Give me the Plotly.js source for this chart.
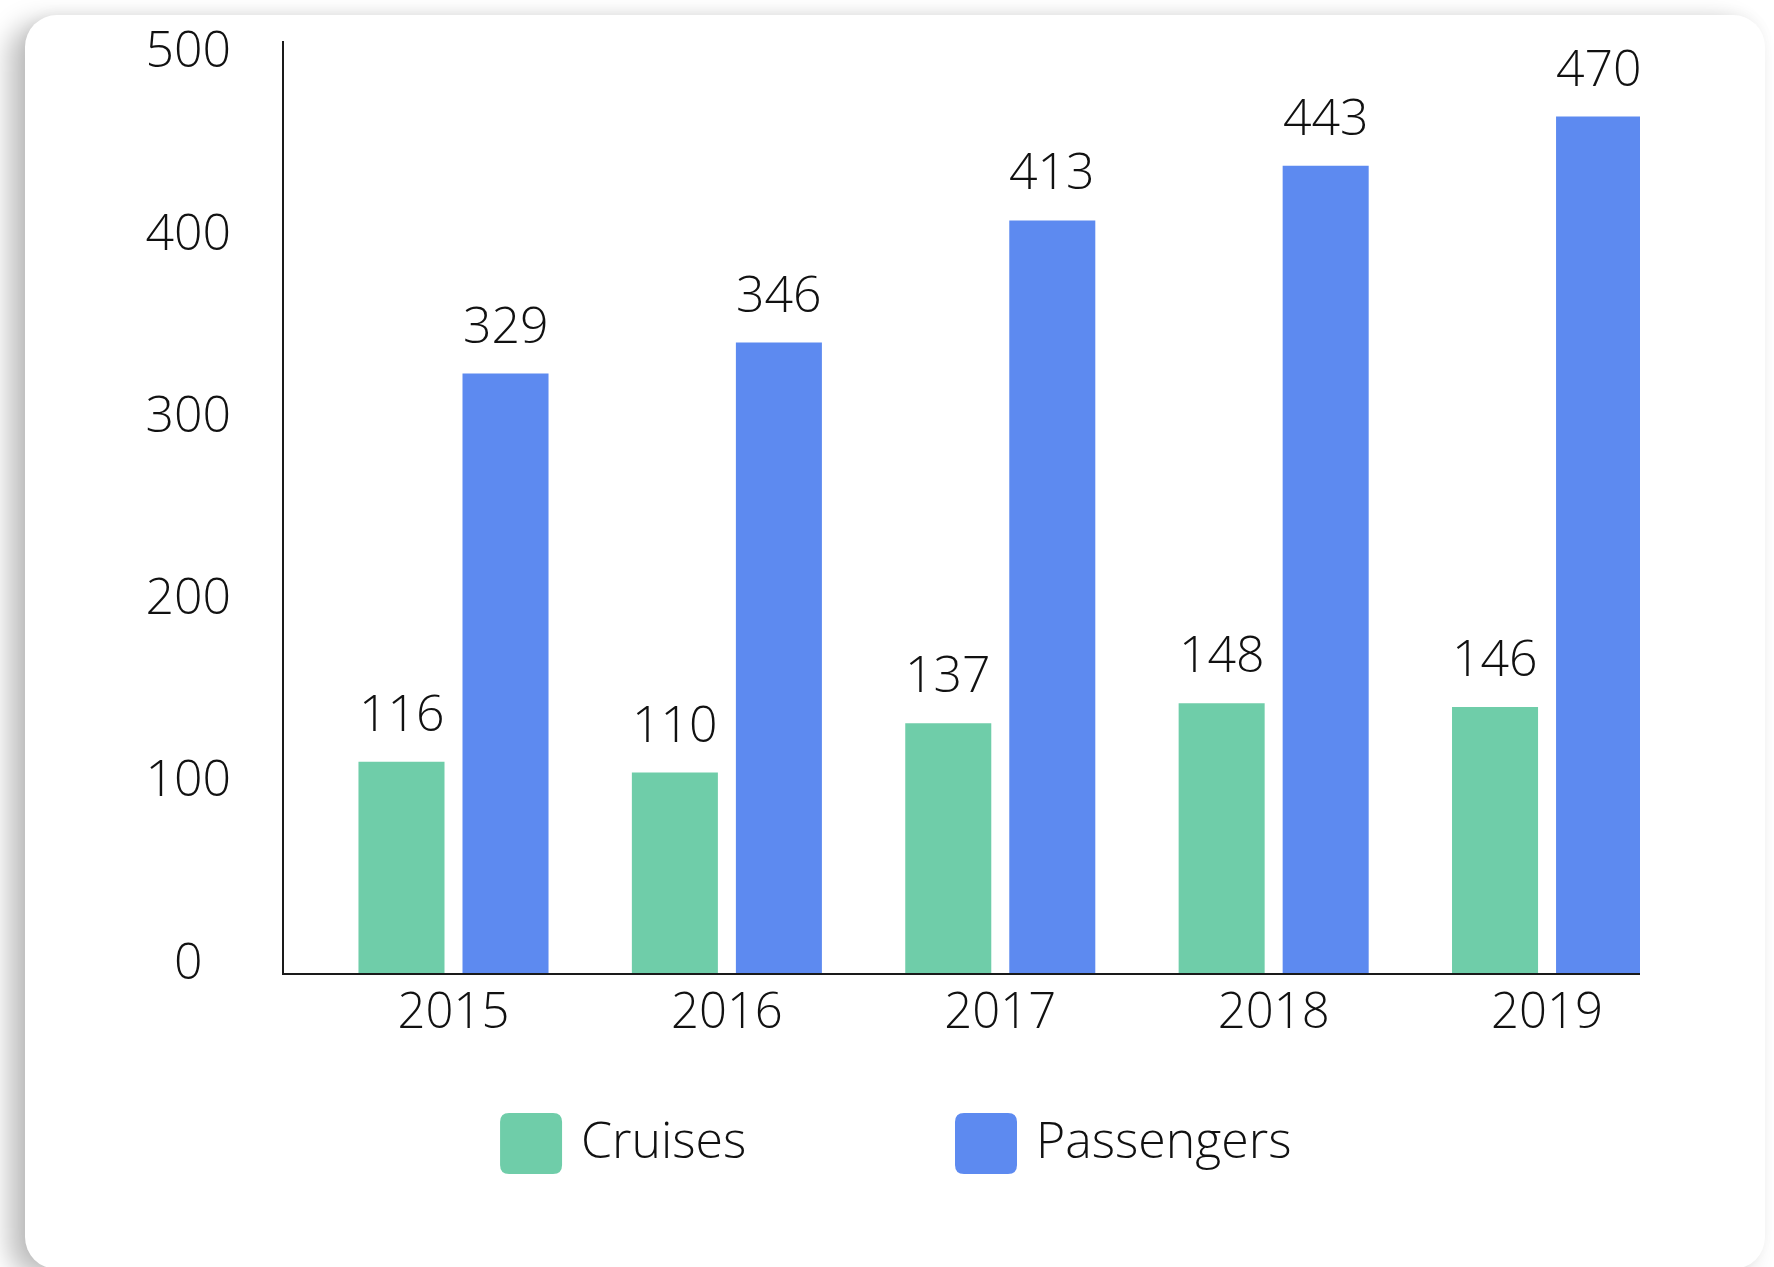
<!DOCTYPE html>
<html>
<head>
<meta charset="utf-8">
<script src="https://cdn.plot.ly/plotly-3.0.1.min.js"></script>
<style>
  html, body { margin: 0; padding: 0; width: 1774px; height: 1267px; overflow: hidden; background: #ffffff; }
  #card { position: absolute; left: 25px; top: 15px; width: 1740px; height: 1254px;
          background: #ffffff; border-radius: 32px;
          box-shadow: -16px 8px 26px rgba(0,0,0,0.26), 0 -4px 12px rgba(0,0,0,0.03); }
  #chart { position: absolute; left: 0; top: 0; width: 1774px; height: 1267px; }
</style>
</head>
<body>
<div id="card"></div>
<div id="chart"></div>
<script>
const years = ["2015", "2016", "2017", "2018", "2019"];
const cruises = [116, 110, 137, 148, 146];
const passengers = [329, 346, 413, 443, 470];
const seriesNames = ["Cruises", "Passengers"];
const seriesColors = ["#6FCDA9", "#5D8AF0"];
const yTickVals = [0, 100, 200, 300, 400, 500];
const yTickText = ["0\u2007", "100", "200", "300", "400", "500"];

const seriesValues = [cruises, passengers];
const traces = seriesValues.map((vals, k) => ({
  type: "bar",
  name: seriesNames[k],
  x: years,
  y: vals,
  marker: { color: seriesColors[k], line: { width: 0 } },
  hoverinfo: "x+y+name"
}));

const annotations = [];
const barShift = [-52, 52];
seriesValues.forEach((vals, k) => {
  vals.forEach((v, i) => {
    annotations.push({
      xref: "x", yref: "y", x: i, y: v,
      text: String(v), showarrow: false,
      xanchor: "center", yanchor: "bottom",
      xshift: barShift[k], yshift: 14,
      font: { family: "Open Sans", size: 50, weight: 300, color: "#111111" }
    });
  });
});

// custom legend (large rounded swatches)
function roundedRect(w, h, r) {
  const x0 = -w / 2, x1 = w / 2, y0 = -h / 2, y1 = h / 2;
  return `M ${x0 + r},${y0} L ${x1 - r},${y0} Q ${x1},${y0} ${x1},${y0 + r} ` +
         `L ${x1},${y1 - r} Q ${x1},${y1} ${x1 - r},${y1} L ${x0 + r},${y1} ` +
         `Q ${x0},${y1} ${x0},${y1 - r} L ${x0},${y0 + r} Q ${x0},${y0} ${x0 + r},${y0} Z`;
}
const legendX = [0.1822, 0.5177];
const legendTextX = [0.2175, 0.553];
const legendY = -0.183;
const legendTextY = -0.178;
const shapes = [];
seriesNames.forEach((name, k) => {
  shapes.push({
    type: "path", xref: "paper", yref: "paper",
    xsizemode: "pixel", ysizemode: "pixel",
    xanchor: legendX[k], yanchor: legendY,
    path: roundedRect(62, 61, 9),
    fillcolor: seriesColors[k], line: { width: 0 }
  });
  annotations.push({
    xref: "paper", yref: "paper", x: legendTextX[k], y: legendTextY,
    text: name, showarrow: false, xanchor: "left", yanchor: "middle",
    font: { family: "Open Sans", size: 50, weight: 300, color: "#111111" }
  });
});

const layout = {
  width: 1774, height: 1267,
  paper_bgcolor: "rgba(0,0,0,0)", plot_bgcolor: "rgba(0,0,0,0)",
  margin: { l: 284, r: 134, t: 41, b: 294, pad: 0 },
  font: { family: "Open Sans", size: 48, weight: 300, color: "#111111" },
  barmode: "group", bargap: 0.239, bargroupgap: 0.173,
  showlegend: false,
  xaxis: {
    type: "category", range: [-0.62, 4.34],
    showline: true, linecolor: "#1a1a1a", linewidth: 2,
    ticks: "", showgrid: false, zeroline: false,
    ticklabelstandoff: -6,
    tickfont: { family: "Open Sans", size: 49, weight: 300, color: "#111111" }
  },
  yaxis: {
    range: [0, 511.5],
    showline: true, linecolor: "#1a1a1a", linewidth: 2,
    ticks: "", showgrid: false, zeroline: false,
    tickmode: "array", tickvals: yTickVals, ticktext: yTickText,
    ticklabelshift: -12, ticklabelstandoff: 41,
    tickfont: { family: "Open Sans", size: 50, weight: 300, color: "#111111" }
  },
  annotations: annotations,
  shapes: shapes
};

Plotly.newPlot("chart", traces, layout, { displayModeBar: false, staticPlot: true });
</script>
</body>
</html>
